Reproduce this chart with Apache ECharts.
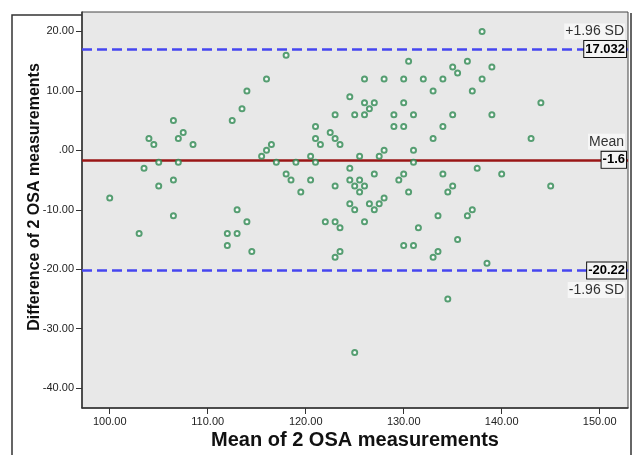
<!DOCTYPE html>
<html>
<head>
<meta charset="utf-8">
<script src="https://cdn.jsdelivr.net/npm/echarts@6/dist/echarts.min.js"></script>
<style>
  html, body { margin: 0; padding: 0; background: #fff; }
  #chart { width: 633px; height: 455px; }
</style>
</head>
<body>
<div id="chart"></div>
<script>
// Bland-Altman plot: mean vs difference of 2 OSA measurements
const meanVals = [
  114, 113.5, 112.5, 106.5, 107.5, 104, 107, 104.5, 108.5, 105,
  107, 103.5, 106.5, 105, 100, 113, 106.5, 103, 114, 112,
  113, 112, 114.5, 118, 116, 124.5, 126, 128, 130, 132,
  130.5, 133, 126, 127, 126.5, 130, 123, 125, 126, 129,
  131, 121, 129, 130, 122.5, 121, 123, 133, 121.5, 123.5,
  116.5, 116, 128, 131, 115.5, 120.5, 125.5, 127.5, 117, 119,
  121, 131, 124.5, 118, 127, 130, 118.5, 120.5, 124.5, 125.5,
  129.5, 123, 125, 126, 119.5, 125.5, 130.5, 128, 124.5, 126.5,
  127.5, 125, 127, 133.5, 122, 123, 126, 123.5, 131.5, 130,
  131, 123.5, 123, 133, 133.5, 125, 138, 136.5, 135, 139,
  135.5, 134, 138, 137, 144, 135, 139, 134, 143, 137.5,
  134, 140, 135, 145, 134.5, 137, 136.5, 135.5, 138.5, 134.5
];
const diffVals = [
  10, 7, 5, 5, 3, 2, 2, 1, 1, -2,
  -2, -3, -5, -6, -8, -10, -11, -14, -12, -14,
  -14, -16, -17, 16, 12, 9, 12, 12, 12, 12,
  15, 10, 8, 8, 7, 8, 6, 6, 6, 6,
  6, 4, 4, 4, 3, 2, 2, 2, 1, 1,
  1, 0, 0, 0, -1, -1, -1, -1, -2, -2,
  -2, -2, -3, -4, -4, -4, -5, -5, -5, -5,
  -5, -6, -6, -6, -7, -7, -7, -8, -9, -9,
  -9, -10, -10, -11, -12, -12, -12, -13, -13, -16,
  -16, -17, -18, -18, -17, -34, 20, 15, 14, 14,
  13, 12, 12, 10, 8, 6, 6, 4, 2, -3,
  -4, -4, -6, -6, -7, -10, -11, -15, -19, -25
];

const xTicks = [100, 110, 120, 130, 140, 150];
const xTickLabels = ['100.00', '110.00', '120.00', '130.00', '140.00', '150.00'];
const yTicks = [20, 10, 0, -10, -20, -30, -40];
const yTickLabels = ['20.00', '10.00', '.00', '-10.00', '-20.00', '-30.00', '-40.00'];

// upper limit, mean, lower limit
const limitValues = [17.032, -1.6, -20.22];
const limitLabels = ['17.032', '-1.6', '-20.22'];
const limitNames = ['+1.96 SD', 'Mean', '-1.96 SD'];

const FONT = '"Liberation Sans", Arial, sans-serif';
const X_MIN = 97.17, X_MAX = 152.89;
const Y_MIN = -43.34, Y_MAX = 23.27;

const blueLine = { color: '#4646f0', type: [10, 5], width: 2.5 };
const redLine = { color: '#9a1616', type: 'solid', width: 2.5 };
const nameOffsets = [-17.5, -18, 19.5];

function tickFormatter(ticks, labels) {
  return (v) => {
    const i = ticks.findIndex((t) => Math.abs(t - v) < 1e-6);
    return i >= 0 ? labels[i] : '';
  };
}

const chart = echarts.init(document.getElementById('chart'));

const option = {
  animation: false,
  textStyle: { fontFamily: FONT },
  graphic: [
    {
      type: 'polyline',
      shape: { points: [[82, 15], [12, 15], [12, 460]] },
      style: { stroke: '#333', lineWidth: 1.5, fill: null },
    },
    {
      type: 'line',
      shape: { x1: 631, y1: 13, x2: 631, y2: 460 },
      style: { stroke: '#333', lineWidth: 1.5 },
    },
  ],
  grid: {
    left: 82,
    top: 12,
    width: 546,
    height: 397,
    show: true,
    backgroundColor: '#e8e8e8',
    borderColor: '#444',
    borderWidth: 1,
  },
  xAxis: {
    type: 'value',
    min: X_MIN,
    max: X_MAX,
    splitLine: { show: false },
    axisLine: { show: true, onZero: false, lineStyle: { color: '#333', width: 1.5 } },
    axisTick: { show: true, customValues: xTicks, length: 6, lineStyle: { color: '#333' } },
    axisLabel: {
      customValues: xTicks,
      formatter: tickFormatter(xTicks, xTickLabels),
      fontSize: 11,
      color: '#222',
      margin: 8,
    },
    name: 'Mean of 2 OSA measurements',
    nameLocation: 'middle',
    nameGap: 22,
    nameMoveOverlap: false,
    nameTextStyle: { fontSize: 20, fontWeight: 'bold', color: '#111' },
  },
  yAxis: {
    type: 'value',
    min: Y_MIN,
    max: Y_MAX,
    splitLine: { show: false },
    axisLine: { show: true, onZero: false, lineStyle: { color: '#333', width: 1.5 } },
    axisTick: { show: true, customValues: yTicks, length: 6, lineStyle: { color: '#333' } },
    axisLabel: {
      customValues: yTicks,
      formatter: tickFormatter(yTicks, yTickLabels),
      fontSize: 11,
      color: '#222',
      margin: 8,
    },
    name: 'Difference of 2 OSA measurements',
    nameLocation: 'middle',
    nameGap: 39,
    nameMoveOverlap: false,
    nameTextStyle: { fontSize: 16, fontWeight: 'bold', color: '#111', padding: [0, 0, 0, 26] },
  },
  series: [
    {
      name: 'Differences',
      type: 'scatter',
      clip: false,
      z: 3,
      symbol: 'emptyCircle',
      symbolSize: 5,
      itemStyle: { color: '#2f8a52', borderColor: '#2f8a52', borderWidth: 1.6 },
      data: meanVals.map((m, i) => [m, diffVals[i]]),
      markLine: {
        silent: true,
        symbol: ['none', 'none'],
        label: { show: false },
        z: 1,
        data: limitValues.map((v, i) => ({
          yAxis: v,
          lineStyle: i === 1 ? redLine : blueLine,
        })),
      },
    },
    {
      name: 'Limit labels',
      type: 'scatter',
      z: 10,
      data: [],
      markPoint: {
        silent: true,
        symbol: 'circle',
        symbolSize: 0,
        data: limitValues.flatMap((v, i) => [
          {
            coord: [X_MAX, v],
            label: {
              show: true,
              position: 'left',
              distance: 2,
              formatter: limitLabels[i],
              fontSize: 13,
              fontWeight: 'bold',
              color: '#000',
              backgroundColor: '#f4f4f4',
              borderColor: '#111',
              borderWidth: 1,
              padding: [2, 1, 1, 1],
            },
          },
          {
            coord: [X_MAX, v],
            label: {
              show: true,
              position: 'left',
              distance: 3,
              offset: [0, nameOffsets[i]],
              formatter: limitNames[i],
              fontSize: 14,
              color: '#333',
              backgroundColor: '#f6f6f6',
              padding: [1, 1],
            },
          },
        ]),
      },
    },
  ],
};

chart.setOption(option);
</script>
</body>
</html>
